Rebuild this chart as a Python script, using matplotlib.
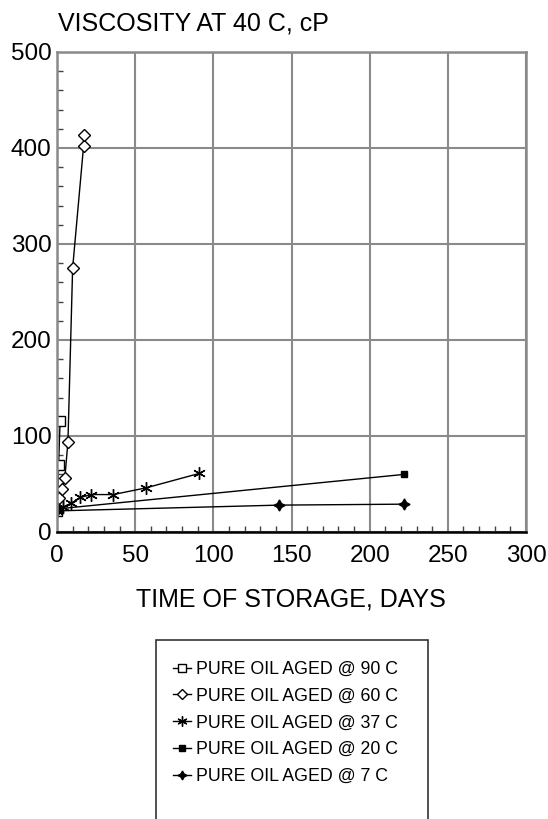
import numpy as np
import matplotlib
matplotlib.use("Agg")
import matplotlib.pyplot as plt
from matplotlib.patches import Rectangle
from matplotlib.ticker import MultipleLocator

plt.rcParams['font.family'] = ['Liberation Sans', 'DejaVu Sans']

# Data (days, viscosity cP)
days_90 = [0, 0.5, 1, 2]
visc_90 = [22, 30, 70, 116]

days_60 = [0, 1, 3, 5, 7, 10, 17, 17]
visc_60 = [25, 35, 45, 56, 94, 275, 402, 414]

days_37 = [0, 4, 9, 15, 22, 36, 57, 91]
visc_37 = [22, 26, 30, 36, 39, 39, 46, 61]

days_20 = [0, 222]
visc_20 = [24, 60]

days_7 = [0, 142, 222]
visc_7 = [22, 28, 29]

labels = ["PURE OIL AGED @ 90 C", "PURE OIL AGED @ 60 C", "PURE OIL AGED @ 37 C",
          "PURE OIL AGED @ 20 C", "PURE OIL AGED @ 7 C"]

W, H = 548, 819
fig = plt.figure(figsize=(W / 100, H / 100), dpi=100)
ax = fig.add_axes([57 / W, 1 - 532 / H, (526 - 57) / W, (532 - 52) / H])

grid_col = '#8a8a8a'
lw = 1.0
h1, = ax.plot(days_90, visc_90, color='k', lw=lw, marker='s', ms=7,
              mfc='white', mec='k', mew=1.0)
h2, = ax.plot(days_60, visc_60, color='k', lw=lw, marker='D', ms=6,
              mfc='white', mec='k', mew=1.0)
h3, = ax.plot(days_37, visc_37, color='k', lw=lw, marker=(6, 2, 0), ms=9,
              mec='k', mew=1.0)
h4, = ax.plot(days_20, visc_20, color='k', lw=lw, marker='s', ms=5,
              mfc='k', mec='k')
h5, = ax.plot(days_7, visc_7, color='k', lw=lw, marker=(4, 1, 0), ms=8,
              mfc='k', mec='k')

ax.set_xlim(0, 300)
ax.set_ylim(0, 500)
ax.xaxis.set_major_locator(MultipleLocator(50))
ax.yaxis.set_major_locator(MultipleLocator(100))
ax.xaxis.set_minor_locator(MultipleLocator(10))
ax.yaxis.set_minor_locator(MultipleLocator(20))
ax.grid(True, which='major', color=grid_col, lw=1.5)
ax.set_axisbelow(True)
ax.tick_params(which='both', direction='in', top=False, right=False)
ax.tick_params(which='major', length=0, labelsize=17.5)
ax.tick_params(which='minor', length=4, color='#444444', width=1)
ax.tick_params(axis='x', which='major', pad=9)
ax.tick_params(axis='y', which='major', pad=4)

for side in ['top', 'right', 'left']:
    ax.spines[side].set_color(grid_col)
    ax.spines[side].set_linewidth(1.8)
ax.spines['bottom'].set_color('k')
ax.spines['bottom'].set_linewidth(1.8)

fig.text(58 / W, 1 - 30 / H, "VISCOSITY AT 40 C, cP", fontsize=18,
         ha='left', va='baseline')
fig.text(291 / W, 1 - 607 / H, "TIME OF STORAGE, DAYS", fontsize=18,
         ha='center', va='baseline')

# legend box, open at the bottom like the cropped scan
fig.patches.append(Rectangle((156 / W, -0.05), (428 - 156) / W, 0.05 + 1 - 640 / H,
                             transform=fig.transFigure, fill=False,
                             edgecolor='#333333', lw=1.2))
fig.legend([h1, h2, h3, h4, h5], labels, loc='upper left',
           bbox_to_anchor=(164 / W, 1 - 652 / H), frameon=False,
           fontsize=12.8, handlelength=1.0, handletextpad=0.3,
           labelspacing=0.55, borderpad=0, markerscale=0.8)

fig.savefig("out.png", dpi=100)
